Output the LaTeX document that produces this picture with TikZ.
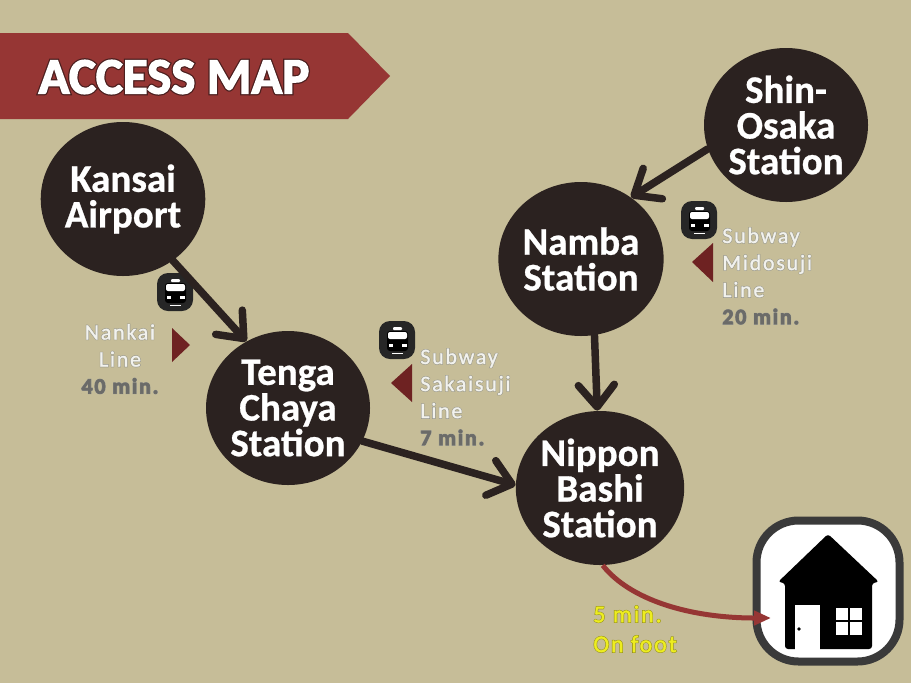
\documentclass[tikz,border=0pt]{standalone}
\usepackage{fontspec}
\usepackage{xcolor}
\setmainfont{Carlito}
\newfontfamily\labelfont[LetterSpace=8]{Carlito}
\usetikzlibrary{shapes.geometric,arrows.meta}
\definecolor{sand}{HTML}{C6BD98}
\definecolor{bannerred}{HTML}{963634}
\definecolor{darkred}{HTML}{6E2222}
\definecolor{stationdark}{HTML}{2B2220}
\definecolor{framegrey}{HTML}{3A3A3A}
\definecolor{icondark}{HTML}{262626}
\definecolor{linewhite}{HTML}{F2F2EE}
\definecolor{timegrey}{HTML}{6B6B68}
\definecolor{footyellow}{HTML}{EEEE20}
% halo: outer width, outer colour, inner width, inner colour, text
\newcommand{\halo}[5]{\setbox0\hbox{#5}\rlap{\special{pdf:code 2 Tr #1 w #2 RG}\copy0}\special{pdf:code 2 Tr #3 w #4 RG}\copy0\special{pdf:code 0 Tr}}
\newcommand{\linetext}[1]{\leavevmode\halo{0.8}{0.6 0.6 0.56}{0.15}{0.95 0.95 0.93}{#1}}
\newcommand{\timetext}[1]{\leavevmode{\color{timegrey}\bfseries\halo{0.7}{0.62 0.62 0.58}{0.35}{0.42 0.42 0.41}{#1}}}
\newcommand{\foottext}[1]{\leavevmode\halo{0.8}{0.58 0.56 0.1}{0.2}{0.93 0.93 0.13}{#1}}
\tikzstyle{station} = [ellipse, fill=stationdark, text=white, minimum width=164*0.02cm,
minimum height=154*0.02cm, inner sep=0pt, align=center, font=\bfseries\fontsize{22.2}{20.3}\selectfont,
execute at begin node={\special{pdf:code 2 Tr 0.15 w 1 1 1 RG}}, execute at end node={\special{pdf:code 0 Tr}}]
\tikzstyle{route} = [draw=stationdark, line width=7.5*0.02cm, line cap=round,
-{Straight Barb[length=22*0.02cm,width=36*0.02cm,line width=0pt 1,round]}]
\tikzstyle{info} = [align=left, inner sep=0pt, text=linewhite, font=\labelfont\fontsize{12.5}{15.4}\selectfont]
\tikzstyle{pointer} = [fill=darkred]
\tikzset{trainicon/.pic={
\fill [icondark, rounded corners=11*0.02cm] (-18,-19) rectangle (18,19);
\fill [black, rounded corners=3*0.02cm] (-10,-9) rectangle (11,11);
\fill [white, rounded corners=1*0.02cm] (-4,-13) rectangle (5,-10);
\fill [white, rounded corners=2*0.02cm] (-9,-8) rectangle (10,-1);
\fill [white] (-8,4) rectangle (-4,7);
\fill [white] (5,4) rectangle (10,7);
\fill [white] (-5,13) rectangle (6,14);
}}
\begin{document}
\begin{tikzpicture}[x=0.02cm,y=-0.02cm]
\useasboundingbox (0,0) rectangle (911,683);
\fill [sand] (0,0) rectangle (911,683);
% Banner
\fill [bannerred] (0,33) -- (348,33) -- (390,76) -- (348,119) -- (0,119) -- cycle;
\node [inner sep=0pt, text=white, font=\bfseries\fontsize{29}{32}\selectfont] (title) at (174,77)
{\leavevmode\halo{2.2}{0.3 0.12 0.12}{0.8}{1 1 1}{ACCESS MAP}};
% Place nodes
\node [station] (kansai) at (123,199) {Kansai\\Airport};
\node [station] (tenga) at (288,408) {Tenga\\Chaya\\Station};
\node [station] (namba) at (581,259) {Namba\\Station};
\node [station] (nippon) at (600,488) {Nippon\\Bashi\\Station};
\node [station] (shin) at (786,125) {Shin-\\Osaka\\Station};
\node [draw=framegrey, line width=8*0.02cm, fill=white, rounded corners=42*0.02cm,
minimum width=143*0.02cm, minimum height=141*0.02cm] (home) at (828,591) {};
\coordinate (door) at (771,618);
% House
\fill [black, rounded corners=3*0.02cm] (828,534) -- (879,582) -- (872,583) -- (872,649)
-- (785,649) -- (785,583) -- (778,582) -- cycle;
\fill [white] (795,605) rectangle (820,653);
\fill [black] (799,629) circle (1.8);
\fill [white] (836,608) rectangle (862,635);
\draw [black, line width=1.5*0.02cm] (849,608) -- (849,635) (836,621) -- (862,621);
% Train icons
\pic at (175,292) {trainicon};
\pic at (397,340) {trainicon};
\pic at (699,220) {trainicon};
% Pointers
\fill [pointer] (172,328) -- (190,345) -- (172,362) -- cycle;
\fill [pointer] (412,364) -- (391,383) -- (412,402) -- cycle;
\fill [pointer] (713,243) -- (692,262) -- (713,282) -- cycle;
% Labels
\node [info, align=center] (nankai) at (120,359) {\linetext{Nankai}\\\linetext{Line}\\\timetext{40 min.}};
\node [info, anchor=west] (sakaisuji) at (420,397) {\linetext{Subway}\\\linetext{Sakaisuji}\\\linetext{Line}\\\timetext{7 min.}};
\node [info, anchor=west] (midosuji) at (722,276) {\linetext{Subway}\\\linetext{Midosuji}\\\linetext{Line}\\\timetext{20 min.}};
\node [info, anchor=west, text=footyellow, font=\labelfont\fontsize{13.6}{17}\selectfont] (foot) at (593,629) {\foottext{5 min.}\\\foottext{On foot}};
% Draw edges
\path [route] (kansai.-51) -- (tenga.122);
\path [route] (tenga.-24) -- (nippon.178);
\path [route] (namba.-80) -- (nippon.92);
\path [route] (shin.197) -- (namba.51);
\draw [bannerred, line width=5*0.02cm, -{Triangle[length=17*0.02cm,width=14*0.02cm]}]
(nippon.-88) .. controls (630,600) and (690,618) .. (door);
\end{tikzpicture}
\end{document}
